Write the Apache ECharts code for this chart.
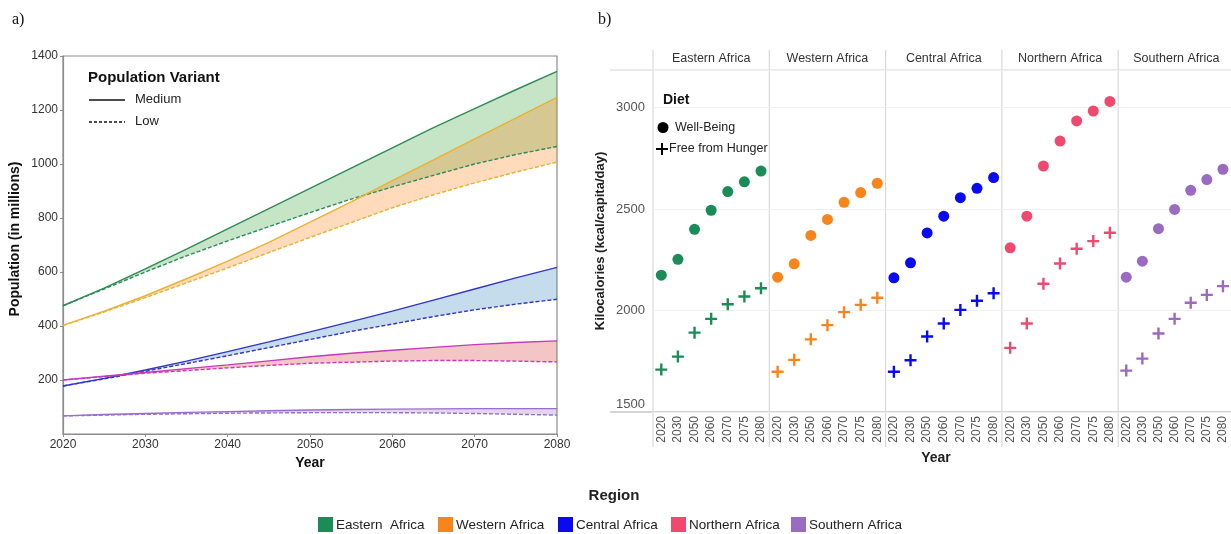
<!DOCTYPE html>
<html>
<head>
<meta charset="utf-8">
<script src="https://cdn.jsdelivr.net/npm/echarts@6/dist/echarts.min.js"></script>
<style>
  html, body { margin: 0; padding: 0; background: #fff; }
  #chart { width: 1231px; height: 534px; }
</style>
</head>
<body>
<div id="chart"></div>
<script>
// ---- a) population projections, medium and low variant (millions) ----
const projYears = ['2020','2025','2030','2035','2040','2045','2050','2055','2060','2065','2070','2075','2080'];
const regionNames = ['Eastern Africa','Western Africa','Central Africa','Northern Africa','Southern Africa'];
const regionLegendNames = ['Eastern  Africa','Western Africa','Central Africa','Northern Africa','Southern Africa'];

const easternMedium = [475, 540, 612, 685, 760, 835, 910, 985, 1060, 1135, 1205, 1275, 1343];
const easternLow    = [475, 537, 600, 660, 715, 768, 820, 870, 915, 958, 1000, 1035, 1065];
const westernMedium = [402, 455, 512, 575, 640, 710, 785, 860, 938, 1015, 1093, 1170, 1247];
const westernLow    = [402, 452, 505, 560, 615, 672, 728, 783, 838, 886, 930, 970, 1007];
const centralMedium = [178, 206, 237, 270, 305, 341, 378, 416, 455, 496, 537, 578, 617];
const centralLow    = [178, 204, 232, 261, 290, 320, 350, 380, 407, 435, 460, 481, 499];
const northernMedium = [200, 214, 228, 242, 256, 271, 286, 299, 310, 321, 331, 339, 345];
const northernLow    = [200, 213, 225, 235, 245, 254, 262, 266, 270, 272, 272, 270, 267];
const southernMedium = [67, 72, 76, 80, 83, 86, 89, 91, 92, 93, 94, 94, 94];
const southernLow    = [67, 70, 73, 75, 77, 78, 79, 79, 79, 78, 76, 73, 70];

const popTicks = [200, 400, 600, 800, 1000, 1200, 1400];

// ---- b) daily kilocalories per diet, by region ----
const dietYears = ['2020','2030','2050','2060','2070','2075','2080'];
const easternWellBeing   = [2174, 2252, 2400, 2494, 2586, 2634, 2687];
const easternFreeHunger  = [1709, 1773, 1891, 1959, 2031, 2069, 2110];
const westernWellBeing   = [2164, 2230, 2370, 2449, 2533, 2581, 2627];
const westernFreeHunger  = [1698, 1757, 1858, 1928, 1992, 2028, 2063];
const centralWellBeing   = [2161, 2235, 2382, 2465, 2556, 2602, 2655];
const centralFreeHunger  = [1698, 1755, 1872, 1936, 2003, 2048, 2085];
const northernWellBeing  = [2309, 2465, 2712, 2835, 2934, 2983, 3030];
const northernFreeHunger = [1816, 1936, 2132, 2232, 2304, 2342, 2383];
const southernWellBeing  = [2164, 2243, 2403, 2498, 2592, 2645, 2696];
const southernFreeHunger = [1704, 1763, 1887, 1959, 2038, 2077, 2120];

const kcalTicks = [1500, 2000, 2500, 3000];

// ---- styling ----
const SANS = '"Liberation Sans", Arial, sans-serif';
const SERIF = '"Liberation Serif", "Times New Roman", serif';
const popLineColors = ['#2e8b57', '#e8b232', '#3434c6', '#c43bb8', '#9a6ccd'];
const popBandColors = ['rgba(44,160,44,0.27)', 'rgba(255,127,14,0.28)', 'rgba(31,119,180,0.26)',
                       'rgba(214,39,40,0.27)', 'rgba(148,103,189,0.27)'];
const dietColors = ['#1a8c58', '#f7851c', '#0a0af0', '#ee4a70', '#9a6bc0'];
const PLUS = 'path://M4,0H6V4H10V6H6V10H4V6H0V4H4Z';

const mediumSets = [easternMedium, westernMedium, centralMedium, northernMedium, southernMedium];
const lowSets = [easternLow, westernLow, centralLow, northernLow, southernLow];
const wellBeingSets = [easternWellBeing, westernWellBeing, centralWellBeing, northernWellBeing, southernWellBeing];
const freeHungerSets = [easternFreeHunger, westernFreeHunger, centralFreeHunger, northernFreeHunger, southernFreeHunger];

// facet layout of panel b
const PANEL_LEFT = 653, PANEL_W = 116.3, PANEL_TOP = 70, PANEL_BOTTOM_Y = 412;

const grids = [{ left: 63, right: 674, top: 56, bottom: 100, show: true, borderColor: '#8c8c8c', borderWidth: 1.2 }];
const xAxes = [{
  type: 'category', gridIndex: 0, data: projYears, boundaryGap: false,
  axisLine: { lineStyle: { color: '#8c8c8c', width: 1.2 } },
  axisTick: { interval: 1, length: 3, lineStyle: { color: '#8c8c8c' } },
  axisLabel: { interval: 1, margin: 5, color: '#333', fontSize: 12, fontFamily: SANS },
  name: 'Year', nameLocation: 'middle', nameGap: 20,
  nameTextStyle: { fontWeight: 'bold', fontSize: 14, color: '#111', fontFamily: SANS }
}];
const yAxes = [{
  type: 'value', gridIndex: 0, min: 0, max: 1400, interval: 200,
  splitLine: { show: false },
  axisLine: { show: true, lineStyle: { color: '#8c8c8c', width: 1.2 } },
  axisTick: { show: true, length: 3, lineStyle: { color: '#8c8c8c' }, customValues: popTicks },
  axisLabel: {
    margin: 5, color: '#333', fontSize: 12, fontFamily: SANS,
    customValues: popTicks, formatter: v => String(v)
  },
  name: 'Population (in millions)', nameLocation: 'middle', nameGap: 41,
  nameTextStyle: { fontWeight: 'bold', fontSize: 14, color: '#111', fontFamily: SANS, padding: [0, 0, 0, 12] }
}];

regionNames.forEach((name, i) => {
  grids.push({ left: PANEL_LEFT + PANEL_W * i, width: PANEL_W, top: PANEL_TOP, bottom: 534 - PANEL_BOTTOM_Y });
  xAxes.push({
    type: 'category', gridIndex: i + 1, data: dietYears, boundaryGap: true,
    axisLine: { show: false }, axisTick: { show: false },
    axisLabel: { rotate: 90, margin: 4, color: '#555', fontSize: 12, fontFamily: SANS, interval: 0 }
  });
  yAxes.push({
    type: 'value', gridIndex: i + 1, min: 1500, max: 3185, interval: 500,
    axisLine: { show: false }, axisTick: { show: false },
    splitLine: { show: true, lineStyle: { color: '#efefef', width: 1 } },
    axisLabel: i === 0 ? {
      show: true, showMaxLabel: false, margin: 8, color: '#555', fontSize: 13, fontFamily: SANS, lineHeight: 16,
      formatter: v => (v === kcalTicks[0] ? v + '\n ' : String(v))
    } : { show: false },
    name: i === 0 ? 'Kilocalories (kcal/capita/day)' : '',
    nameLocation: 'middle', nameGap: 46,
    nameTextStyle: { fontWeight: 'bold', fontSize: 13, color: '#222', fontFamily: SANS }
  });
});

const series = [];
// shaded range between the two variants: stacked low + (medium - low)
regionNames.forEach((name, k) => {
  series.push({
    type: 'line', xAxisIndex: 0, yAxisIndex: 0, stack: 'range' + k, data: lowSets[k],
    symbol: 'none', silent: true, lineStyle: { opacity: 0 }, z: 1
  });
  series.push({
    type: 'line', xAxisIndex: 0, yAxisIndex: 0, stack: 'range' + k,
    data: mediumSets[k].map((v, j) => v - lowSets[k][j]),
    symbol: 'none', silent: true, lineStyle: { opacity: 0 },
    areaStyle: { color: popBandColors[k], opacity: 1 }, z: 1
  });
});
regionNames.forEach((name, k) => {
  series.push({
    name: name + ' medium', type: 'line', xAxisIndex: 0, yAxisIndex: 0, data: mediumSets[k],
    symbol: 'none', lineStyle: { color: popLineColors[k], width: 1.4 }, z: 3
  });
  series.push({
    name: name + ' low', type: 'line', xAxisIndex: 0, yAxisIndex: 0, data: lowSets[k],
    symbol: 'none', lineStyle: { color: popLineColors[k], width: 1.4, type: [4, 2] }, z: 3
  });
});
regionNames.forEach((name, k) => {
  series.push({
    name: name + ' Well-Being', type: 'scatter', xAxisIndex: k + 1, yAxisIndex: k + 1,
    data: wellBeingSets[k], symbol: 'circle', symbolSize: 11,
    itemStyle: { color: dietColors[k], opacity: 1 }, z: 4
  });
  series.push({
    name: name + ' Free from Hunger', type: 'scatter', xAxisIndex: k + 1, yAxisIndex: k + 1,
    data: freeHungerSets[k], symbol: PLUS, symbolSize: 12,
    itemStyle: { color: dietColors[k], opacity: 1 }, z: 4
  });
});

function txt(x, y, text, opt) {
  const o = Object.assign({ size: 13, weight: 'normal', color: '#222', align: 'left', va: 'middle', family: SANS }, opt || {});
  return {
    type: 'text', x, y, z: 10,
    style: {
      text, fill: o.color, font: o.weight + ' ' + o.size + 'px ' + o.family,
      align: o.align, verticalAlign: o.va, textAlign: o.align, textVerticalAlign: o.va
    }
  };
}
function seg(x1, y1, x2, y2, color, width, dash) {
  return {
    type: 'line', z: 0, silent: true, shape: { x1, y1, x2, y2 },
    style: { stroke: color, lineWidth: width, lineDash: dash || null }
  };
}

const graphic = [];
graphic.push(txt(12, 20, 'a)', { size: 16, family: SERIF, color: '#111' }));
graphic.push(txt(598, 20, 'b)', { size: 16, family: SERIF, color: '#111' }));

// population variant key
graphic.push(txt(88, 78, 'Population Variant', { size: 15, weight: 'bold', color: '#111' }));
graphic.push(Object.assign(seg(89, 100, 125, 100, '#111', 1.3), { z: 10 }));
graphic.push(txt(135, 99, 'Medium', { size: 13 }));
graphic.push(Object.assign(seg(89, 122, 125, 122, '#111', 1.3, [3, 2]), { z: 10 }));
graphic.push(txt(135, 121, 'Low', { size: 13 }));

// facet frame of panel b
graphic.push(seg(610, PANEL_TOP, 1231, PANEL_TOP, '#d6d6d6', 1.2));
graphic.push(seg(610, PANEL_BOTTOM_Y, 1231, PANEL_BOTTOM_Y, '#c6c6c6', 1.6));
for (let i = 0; i < regionNames.length; i++) {
  const x = PANEL_LEFT + PANEL_W * i;
  graphic.push(seg(x, 50, x, 447, '#d9d9d9', 1.2));
  graphic.push(txt(x + PANEL_W / 2, 59, regionNames[i], { size: 12.5, color: '#333', align: 'center' }));
}
graphic.push(txt(936, 458, 'Year', { size: 14, weight: 'bold', color: '#222', align: 'center' }));

// diet key
graphic.push(txt(663, 100, 'Diet', { size: 14, weight: 'bold', color: '#111' }));
graphic.push({ type: 'circle', z: 10, shape: { cx: 663, cy: 127.5, r: 5.5 }, style: { fill: '#000' } });
graphic.push(txt(675, 128, 'Well-Being', { size: 12.5, color: '#222' }));
graphic.push(Object.assign(seg(656, 149, 668, 149, '#000', 2), { z: 10 }));
graphic.push(Object.assign(seg(662, 143, 662, 155, '#000', 2), { z: 10 }));
graphic.push(txt(669, 149, 'Free from Hunger', { size: 12.5, color: '#222' }));

// region key
graphic.push(txt(614, 496, 'Region', { size: 15, weight: 'bold', color: '#222', align: 'center' }));
const keyX = [318, 438, 558, 671, 791];
regionLegendNames.forEach((name, i) => {
  graphic.push({ type: 'rect', z: 10, shape: { x: keyX[i], y: 517, width: 15, height: 15 }, style: { fill: dietColors[i] } });
  graphic.push(txt(keyX[i] + 18, 525, name, { size: 13.5, color: '#222' }));
});

const chart = echarts.init(document.getElementById('chart'));
chart.setOption({
  animation: false,
  backgroundColor: '#fff',
  textStyle: { fontFamily: SANS },
  grid: grids,
  xAxis: xAxes,
  yAxis: yAxes,
  series,
  graphic
});
</script>
</body>
</html>
